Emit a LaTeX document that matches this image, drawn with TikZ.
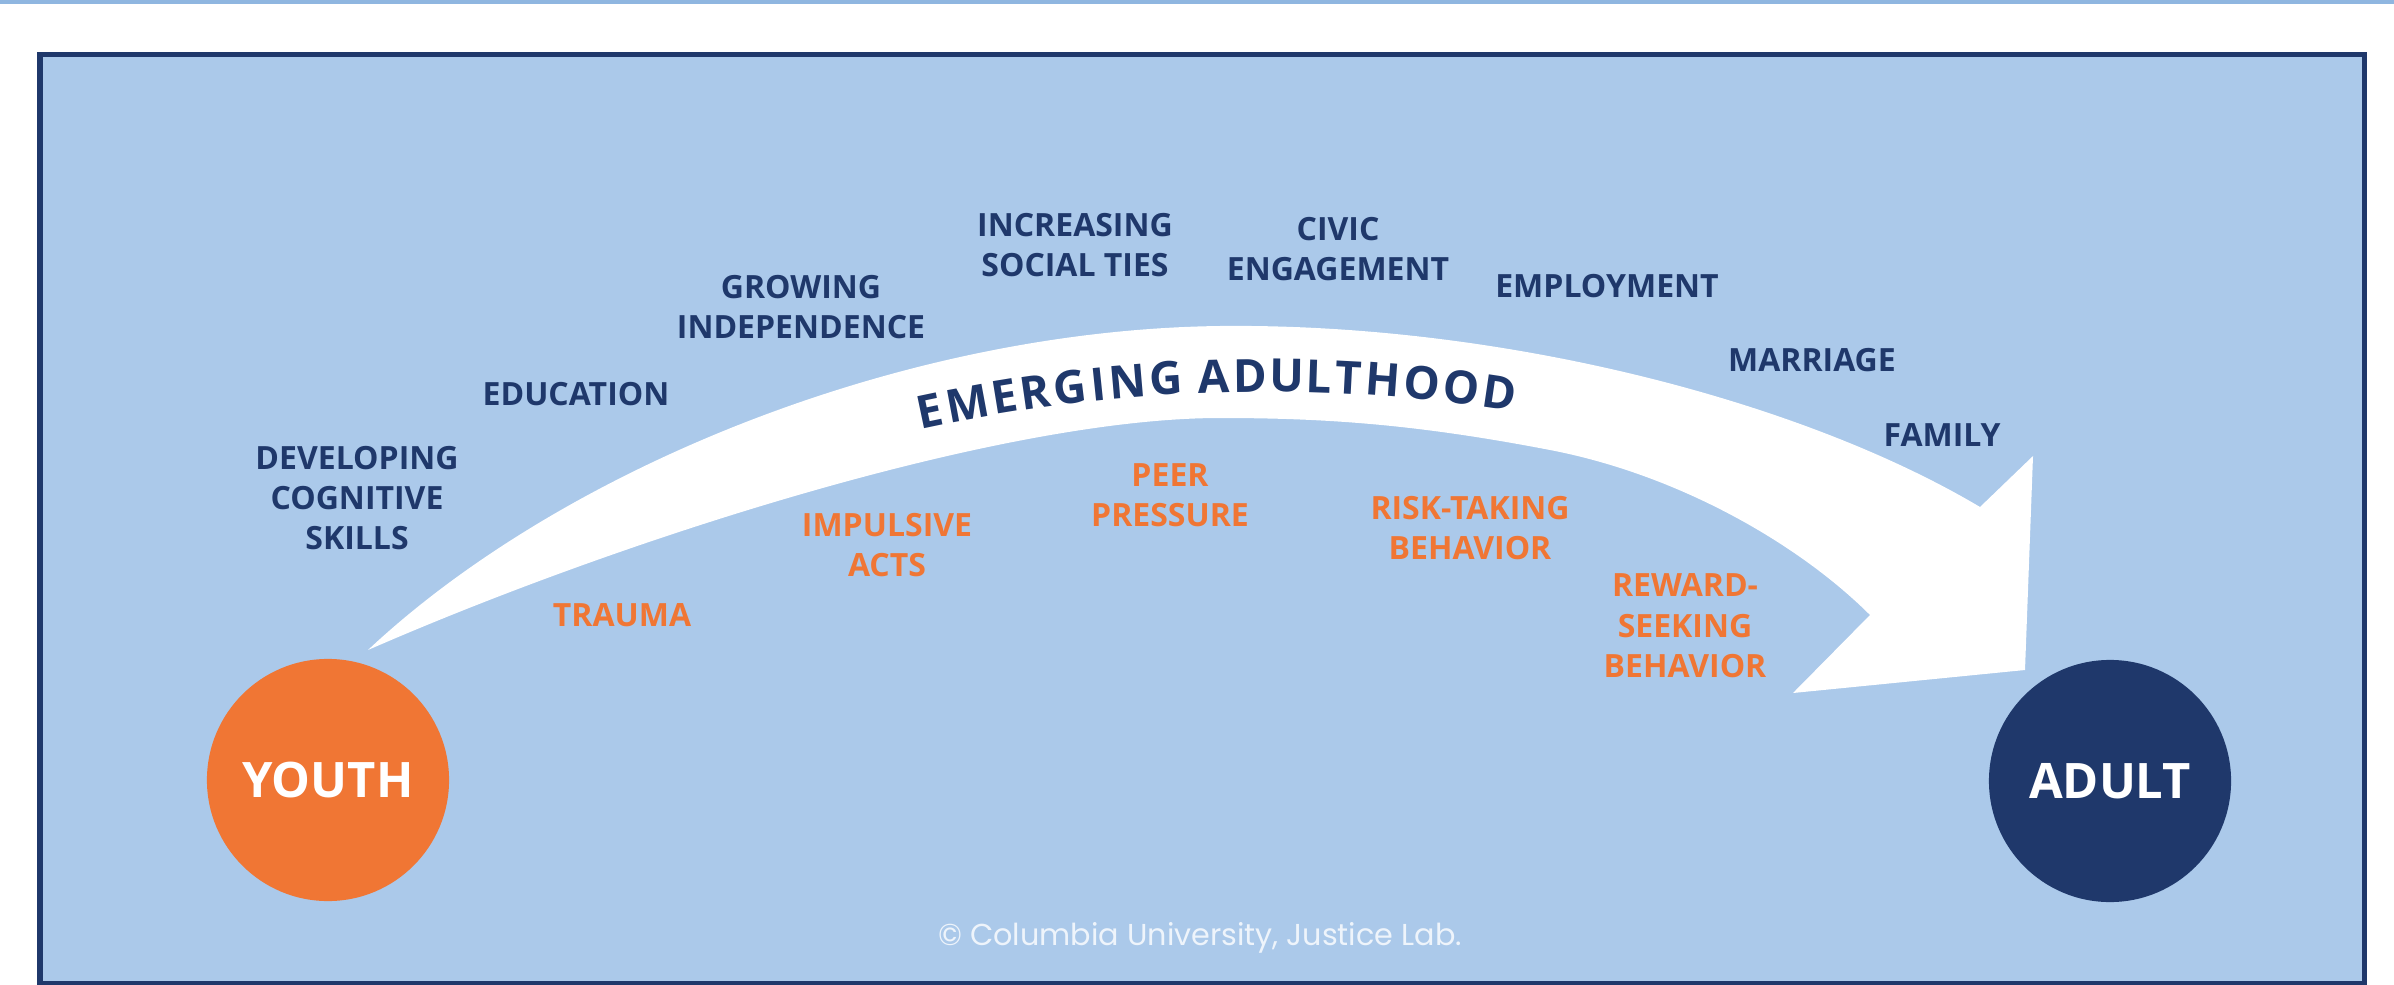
\documentclass[tikz,border=0pt]{standalone}
\usepackage{fontspec}
\setmainfont{Open Sans}
\newfontfamily\notefont{Poppins}
\definecolor{navy}{HTML}{1F386B}
\definecolor{tangerine}{HTML}{F07634}
\definecolor{sky}{HTML}{ABC9EA}
\definecolor{haze}{HTML}{8FB6E0}
\newcommand\archfont{\fontsize{13}{15}\selectfont\bfseries}

\begin{document}
\begin{tikzpicture}[x=0.01cm, y=-0.01cm,
    milestone/.style={align=center, text=navy, inner sep=0pt,
      font=\fontsize{9.1}{11.5}\selectfont\bfseries},
    hazard/.style={milestone, text=tangerine},
    stage/.style={circle, minimum size=2.42cm, inner sep=0pt, text=white,
      font=\fontsize{13.9}{16}\selectfont\bfseries},
    arch/.style={sloped, anchor=base, inner sep=0pt, text=navy, font=\archfont}]
  \useasboundingbox (0,0) rectangle (2394,985);
  \fill[haze] (0,0) rectangle (2394,4);
  \draw[navy, line width=0.05cm, fill=sky] (40,54.5) rectangle (2364.5,983);

  \coordinate (start) at (368,650);
  \coordinate (tip) at (2025,670);
  \fill[white] (start) .. controls (560,470) and (900,330) .. (1220,326)
    .. controls (1500,323) and (1800,400) .. (1980,507)
    -- (2033,456) -- (tip) -- (1793,693) -- (1870,615)
    .. controls (1800,545) and (1680,475) .. (1550,450)
    .. controls (1420,425) and (1330,418) .. (1220,418)
    .. controls (1000,418) and (620,540) .. (start) -- cycle;

  \coordinate (archL) at (917,430);
  \coordinate (archR) at (1518,412);
  \foreach \ch/\p in {E/.026, M/.089, E/.150, R/.201, G/.258, I/.305, N/.353, G/.416,
      A/.495, D/.554, U/.615, L/.668, T/.717, H/.773, O/.838, O/.903, D/.966}
    \path (archL) .. controls (1117,386) and (1318,380) .. (archR) node[arch, pos=\p] {\ch};

  \node[stage, fill=tangerine] (youth) at (328,780) {YOUTH};
  \node[stage, fill=navy] (adult) at (2110,781) {ADULT};

  \node[milestone] (skills) at (357,498) {DEVELOPING\\COGNITIVE\\SKILLS};
  \node[milestone] (education) at (576,394) {EDUCATION};
  \node[milestone] (independence) at (801,307) {GROWING\\INDEPENDENCE};
  \node[milestone] (ties) at (1075,245) {INCREASING\\SOCIAL TIES};
  \node[milestone] (civic) at (1338,249) {CIVIC\\ENGAGEMENT};
  \node[milestone] (employment) at (1607,286) {EMPLOYMENT};
  \node[milestone] (marriage) at (1812,360) {MARRIAGE};
  \node[milestone] (family) at (1942,435) {FAMILY};

  \node[hazard] (trauma) at (622,615) {TRAUMA};
  \node[hazard] (impulsive) at (887,545) {IMPULSIVE\\ACTS};
  \node[hazard] (peer) at (1170,495) {PEER\\PRESSURE};
  \node[hazard] (risk) at (1470,528) {RISK-TAKING\\BEHAVIOR};
  \node[hazard] (reward) at (1685,626) {REWARD-\\SEEKING\\BEHAVIOR};

  \node[text=white!80!sky, font=\notefont\fontsize{8.6}{10}\selectfont, anchor=base] (credit) at (1200,945) {© Columbia University, Justice Lab.};
\end{tikzpicture}
\end{document}
